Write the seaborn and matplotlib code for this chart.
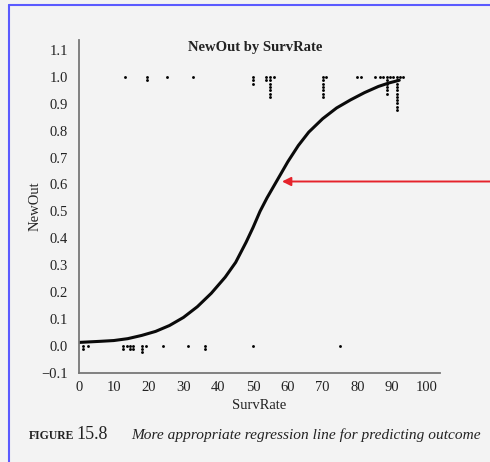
import numpy as np
import pandas as pd
import matplotlib
matplotlib.use("Agg")
import matplotlib.pyplot as plt
import seaborn as sns

# ---- data ----
# points with outcome 1 (x position, number of stacked points)
ones_x = [13.2, 19.4, 25.2, 32.8, 50.0, 53.6, 54.9, 56.1, 70.0, 71.0,
          79.8, 80.9, 85.1, 86.5, 87.4, 88.4, 89.4, 90.3, 91.3, 92.2, 93.2]
ones_n = [1, 2, 1, 1, 3, 2, 7, 1, 7, 1,
          1, 1, 1, 1, 1, 6, 1, 1, 11, 1, 1]
# points with outcome 0
zeros_x = [1.2, 2.7, 12.7, 13.7, 14.6, 15.6, 18.0, 19.3, 24.2, 31.2, 36.2, 50.1, 75.0]
zeros_n = [2, 1, 2, 1, 2, 2, 3, 1, 1, 1, 2, 1, 1]

# fitted regression curve, read point by point
curve_x = [0, 3, 6, 10, 14, 18, 22, 26, 30, 34, 38, 42, 45, 48, 50, 52, 54,
           56, 58, 60, 63, 66, 70, 74, 78, 82, 86, 89, 92]
curve_y = [0.012, 0.014, 0.016, 0.019, 0.026, 0.038, 0.053, 0.075, 0.105, 0.145,
           0.195, 0.255, 0.310, 0.385, 0.440, 0.500, 0.550, 0.595, 0.640, 0.685,
           0.745, 0.795, 0.845, 0.885, 0.915, 0.942, 0.965, 0.978, 0.988]

y_ticks = [-0.1, 0.0, 0.1, 0.2, 0.3, 0.4, 0.5, 0.6, 0.7, 0.8, 0.9, 1.0, 1.1]
x_ticks = [0, 10, 20, 30, 40, 50, 60, 70, 80, 90, 100]

title = "NewOut by SurvRate"
xlabel = "SurvRate"
ylabel = "NewOut"
caption_fig = "FIGURE"
caption_num = "15.8"
caption_text = "More appropriate regression line for predicting outcome"

# ---- build stacked point table ----
STEP = 0.0123
rows = []
for xs, ns, lvl in [(ones_x, ones_n, 1.0), (zeros_x, zeros_n, 0.0)]:
    for x, n in zip(xs, ns):
        for i in range(n):
            rows.append({"SurvRate": x, "NewOut": lvl - i * STEP})
pts = pd.DataFrame(rows)
curve = pd.DataFrame({"SurvRate": curve_x, "NewOut": curve_y})

sns.set_theme(style="white")
serif = ["Liberation Serif", "DejaVu Serif"]
plt.rcParams["font.family"] = serif

W, H = 490, 462
fig = plt.figure(figsize=(W / 100, H / 100), dpi=100)
fig.patch.set_facecolor("#f3f3f3")

ax = fig.add_axes([79 / W, 1 - 372.5 / H, (440 - 79) / W, (372.5 - 40) / H])
ax.set_facecolor("none")

sns.scatterplot(data=pts, x="SurvRate", y="NewOut", ax=ax, color="#000000",
                marker="o", s=4.2, linewidth=0, legend=False)
sns.lineplot(data=curve, x="SurvRate", y="NewOut", ax=ax, color="#0a0a0a",
             linewidth=2.2, sort=True, estimator=None,
             solid_joinstyle="round", solid_capstyle="round")

ax.set_xlim(0, 103.7)
ax.set_ylim(-0.1, 1.138)
ax.set_xticks(x_ticks)
ax.set_yticks(y_ticks)
ax.set_xticklabels([str(t) for t in x_ticks])
ax.set_yticklabels([f"{t:.1f}".replace("-", "\u2212") for t in y_ticks])
ax.tick_params(axis="x", direction="in", length=6.5, width=1, color="#777777",
               labelsize=10.5, pad=6, labelcolor="#222222")
ax.tick_params(axis="y", direction="in", length=5.5, width=1, color="#777777",
               labelsize=10.5, pad=8, labelcolor="#222222")
for s in ["top", "right"]:
    ax.spines[s].set_visible(False)
for s in ["left", "bottom"]:
    ax.spines[s].set_color("#777777")
    ax.spines[s].set_linewidth(1.3)

ax.set_xlabel(xlabel, fontsize=10.5, color="#222222", labelpad=4)
ax.set_ylabel(ylabel, fontsize=10.5, color="#222222", labelpad=0)
ax.set_title("")
fig.text(255 / W, 1 - 48 / H, title, ha="center", va="center",
         fontsize=10.5, fontweight="bold", color="#222222")

# caption
base = 1 - 439 / H
fig.text(29 / W, base, caption_fig, ha="left", va="baseline",
         fontsize=8.5, color="#222222", fontweight="bold")
fig.text(76 / W, base, caption_num, ha="left", va="baseline",
         fontsize=13, color="#222222")
fig.text(131 / W, base, caption_text, ha="left", va="baseline",
         fontsize=11.1, style="italic", color="#222222")

# blue frame of the scan
fig.add_artist(plt.Line2D([9 / W, 1], [1 - 5 / H, 1 - 5 / H], color="#5a5aff",
                          linewidth=1.5, transform=fig.transFigure))
fig.add_artist(plt.Line2D([9 / W, 9 / W], [0, 1 - 5 / H], color="#5a5aff",
                          linewidth=1.5, transform=fig.transFigure))

# red arrow
ax.annotate("", xy=(282 / W, 1 - 181.5 / H), xycoords="figure fraction",
            xytext=(1.0, 1 - 181.5 / H), textcoords="figure fraction",
            arrowprops=dict(arrowstyle="-|>", color="#e5232b", lw=1.4,
                            mutation_scale=13, shrinkA=0, shrinkB=0))

fig.savefig("out.png", dpi=100, facecolor=fig.get_facecolor())
